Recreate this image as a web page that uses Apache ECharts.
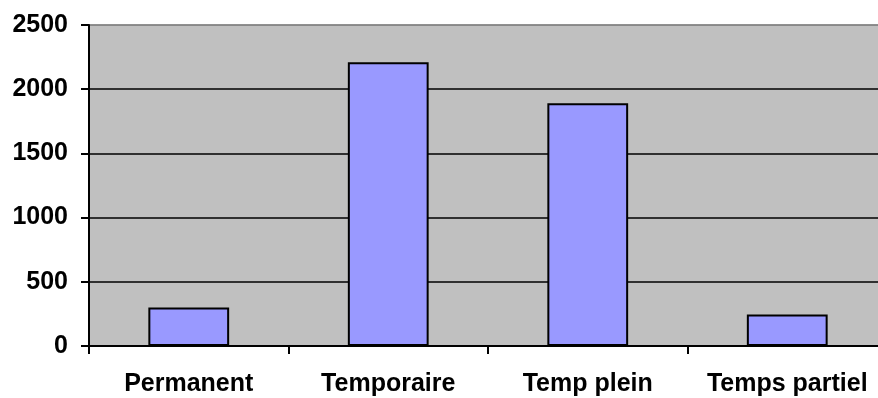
<!DOCTYPE html>
<html>
<head>
<meta charset="utf-8">
<script src="https://cdn.jsdelivr.net/npm/echarts@6/dist/echarts.min.js"></script>
<style>
  html, body { margin: 0; padding: 0; background: #fff; overflow: hidden; }
  /* the plot runs slightly past the right edge of the window */
  #chart { width: 887px; height: 398px; }
</style>
</head>
<body>
<div id="chart"></div>
<script>
// Employment types and their counts
var categories = ['Permanent', 'Temporaire', 'Temp plein', 'Temps partiel'];
var counts = [300, 2210, 1890, 245];
var yTicks = [0, 500, 1000, 1500, 2000, 2500];

var chart = echarts.init(document.getElementById('chart'));
var labelFont = { fontFamily: '"Liberation Sans", Arial, sans-serif', fontWeight: 'bold', fontSize: 25, color: '#000' };

chart.setOption({
  animation: false,
  grid: {
    left: 89, top: 25, bottom: 52, right: 0,
    outerBoundsMode: 'none',
    show: true, backgroundColor: '#C0C0C0', borderColor: '#808080', borderWidth: 1
  },
  xAxis: {
    type: 'category',
    data: categories,
    axisLine: { lineStyle: { color: '#000', width: 2 } },
    axisTick: { show: true, length: 8, lineStyle: { color: '#000', width: 2 } },
    axisLabel: Object.assign({ margin: 26, interval: 0 }, labelFont),
    splitLine: { show: false }
  },
  yAxis: {
    type: 'value',
    min: yTicks[0],
    max: yTicks[yTicks.length - 1],
    interval: 500,
    axisLine: { show: true, lineStyle: { color: '#000', width: 2 } },
    axisTick: { show: true, length: 8, lineStyle: { color: '#000', width: 2 } },
    axisLabel: Object.assign({ margin: 21, formatter: function (v) { return String(v); } }, labelFont),
    splitLine: { show: true, lineStyle: { color: ['#000', '#000', '#000', '#000', '#000', '#808080'], width: 1.5 } }
  },
  series: [{
    type: 'bar',
    data: counts,
    barWidth: '40.5%',
    itemStyle: { color: '#9999FF', borderColor: '#000', borderWidth: 2 }
  }]
});
</script>
</body>
</html>
